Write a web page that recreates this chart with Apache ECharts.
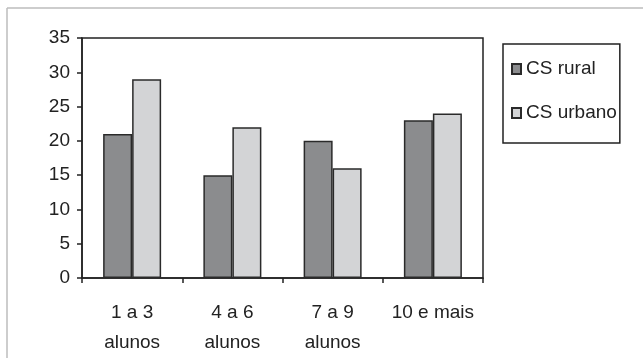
<!DOCTYPE html>
<html>
<head>
<meta charset="utf-8">
<script src="https://cdn.jsdelivr.net/npm/echarts@6/dist/echarts.min.js"></script>
<style>
  html, body { margin: 0; padding: 0; background: #fff; }
  #chart { width: 643px; height: 358px; }
</style>
</head>
<body>
<div id="chart"></div>
<script>
// Class-size groups (number of pupils)
const categories = ['1 a 3\nalunos', '4 a 6\nalunos', '7 a 9\nalunos', '10 e mais'];
// Values per school type
const rural = [21, 15, 20, 23];
const urbano = [29, 22, 16, 24];
// Value axis ticks
const yMin = 0, yMax = 35, yStep = 5;

const FONT = '"Liberation Sans", Arial, sans-serif';
const chart = echarts.init(document.getElementById('chart'), null, { renderer: 'canvas' });

chart.setOption({
  animation: false,
  backgroundColor: '#fff',
  graphic: [
    // outer frame (top and left edges)
    { type: 'line', shape: { x1: 7, y1: 8, x2: 643, y2: 8 }, style: { stroke: '#bdbdbd', lineWidth: 1.5 } },
    { type: 'line', shape: { x1: 7, y1: 8, x2: 7, y2: 358 }, style: { stroke: '#bdbdbd', lineWidth: 1.5 } }
  ],
  grid: {
    left: 82, top: 38, right: 160, bottom: 79,
    show: true, borderColor: '#222', borderWidth: 1.5, backgroundColor: 'transparent'
  },
  legend: {
    orient: 'vertical',
    left: 503, top: 44,
    padding: [15, 3, 20, 8],
    itemGap: 24,
    itemWidth: 9, itemHeight: 10,
    borderColor: '#222', borderWidth: 1.5,
    icon: 'rect',
    textStyle: { fontFamily: FONT, fontSize: 19, lineHeight: 20, color: '#222' },
    data: ['CS rural', 'CS urbano']
  },
  xAxis: {
    type: 'category',
    data: categories,
    axisLine: { lineStyle: { color: '#222', width: 1.5 } },
    axisTick: { show: true, length: 5, lineStyle: { color: '#222', width: 1.5 } },
    axisLabel: { fontFamily: FONT, fontSize: 19, color: '#222', lineHeight: 30, margin: 20, interval: 0 }
  },
  yAxis: {
    type: 'value',
    min: yMin, max: yMax, interval: yStep,
    axisLine: { show: true, lineStyle: { color: '#222', width: 1.5 } },
    axisTick: { show: true, length: 5, lineStyle: { color: '#222', width: 1.5 } },
    splitLine: { show: false },
    axisLabel: { fontFamily: FONT, fontSize: 19, color: '#222', margin: 12 }
  },
  series: [
    {
      name: 'CS rural', type: 'bar', data: rural,
      barWidth: 29, barGap: '0%',
      itemStyle: { color: '#8b8c8e', borderColor: '#2a2a2a', borderWidth: 1.5 }
    },
    {
      name: 'CS urbano', type: 'bar', data: urbano,
      barWidth: 29, barGap: '0%',
      itemStyle: { color: '#d3d4d6', borderColor: '#2a2a2a', borderWidth: 1.5 }
    }
  ]
});
</script>
</body>
</html>
